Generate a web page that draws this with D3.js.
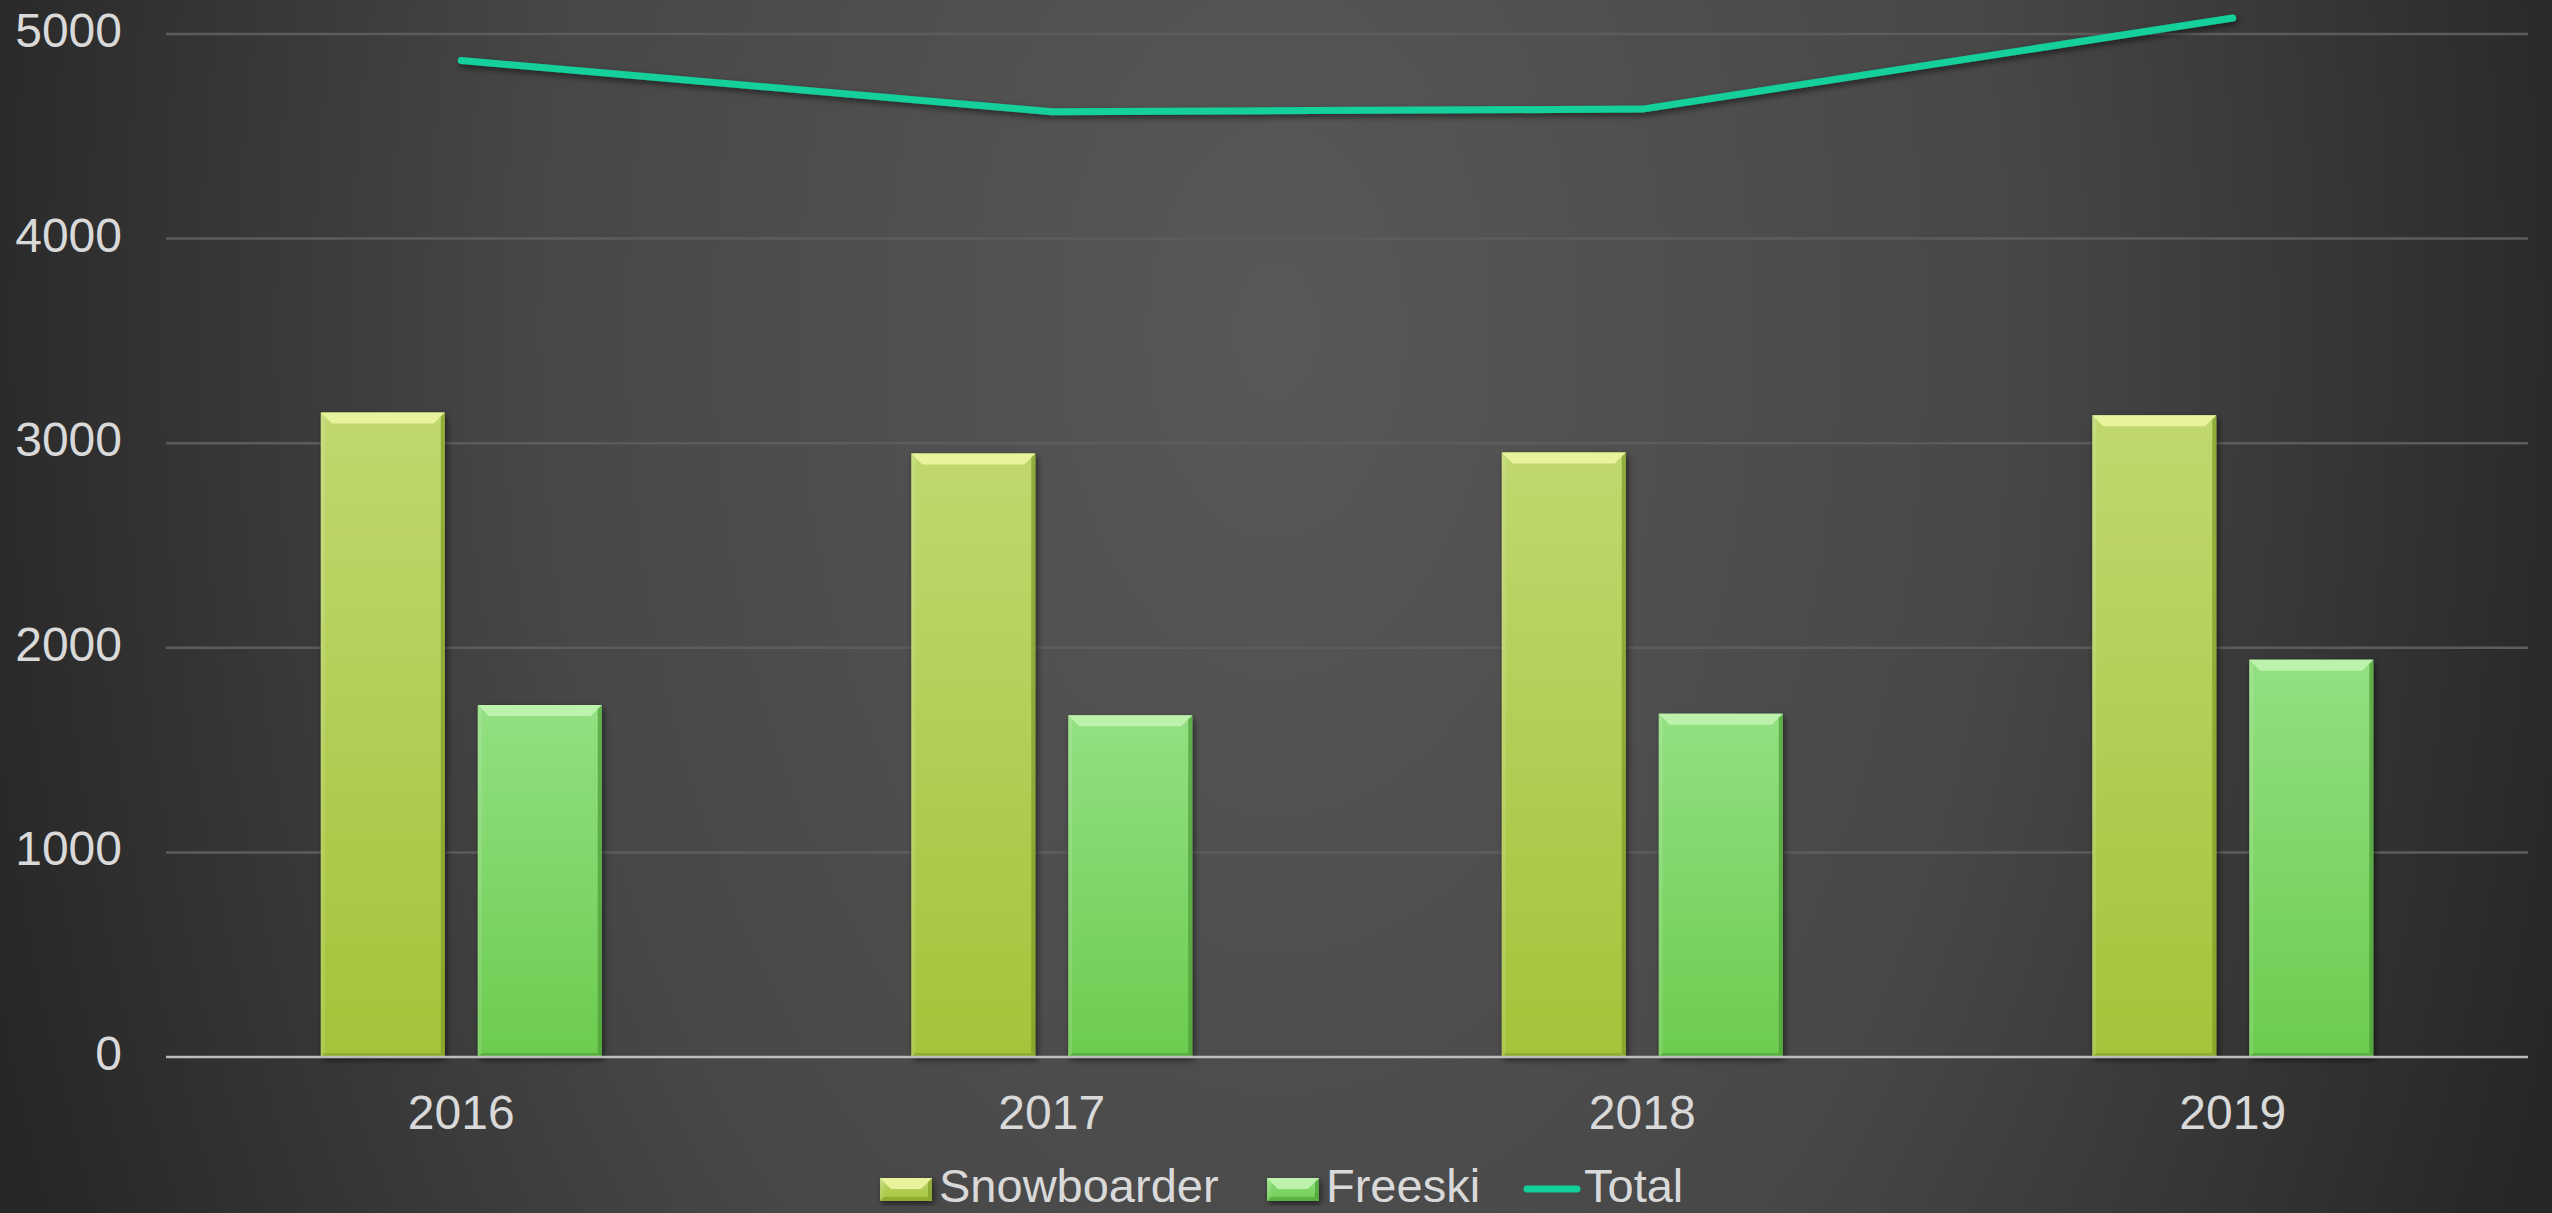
<!DOCTYPE html>
<html>
<head>
<meta charset="utf-8">
<script src="https://cdn.jsdelivr.net/npm/d3@7"></script>
<style>
  html, body { margin: 0; padding: 0; background: #333; }
  svg { display: block; }
  text { font-family: Arial, "Liberation Sans", sans-serif; fill: #d9d9d9; }
</style>
</head>
<body>
<svg id="chart"></svg>
<script>
const width = 2552;
const height = 1213;

// data
const years = ["2016", "2017", "2018", "2019"];
const series = ["Snowboarder", "Freeski"];
const snowboarder = [3150, 2950, 2955, 3136];
const freeski = [1720, 1670, 1678, 1942];
const total = [4870, 4620, 4633, 5078];
const yTicks = [0, 1000, 2000, 3000, 4000, 5000];

const rows = years.map((y, i) => ({ year: y, Snowboarder: snowboarder[i], Freeski: freeski[i], Total: total[i] }));

const colors = {
  Snowboarder: { top: "#c0d86f", bottom: "#a5c33a", bevel: "#e8f39b", edge: "#7f9a26" },
  Freeski: { top: "#93e082", bottom: "#6ccc4f", bevel: "#bdf2ad", edge: "#4c9a35" }
};
const lineColor = "#12d09c";

const svg = d3.select('#chart')
    .attr('width', width).attr('height', height);

const defs = svg.append('defs');

// wide, tall ellipse: edges dark left/right, little fall-off top/bottom
const bg = defs.append('radialGradient').attr('id', 'bg')
    .attr('gradientUnits', 'userSpaceOnUse')
    .attr('cx', 1276).attr('cy', 330).attr('r', 1340)
    .attr('gradientTransform', 'translate(1276,330) scale(1,1.6) translate(-1276,-330)');
bg.append('stop').attr('offset', '0%').attr('stop-color', '#585858');
bg.append('stop').attr('offset', '55%').attr('stop-color', '#474747');
bg.append('stop').attr('offset', '100%').attr('stop-color', '#272727');

series.forEach(s => {
  const g = defs.append('linearGradient').attr('id', 'grad-' + s)
      .attr('x1', 0).attr('y1', 0).attr('x2', 0).attr('y2', 1);
  g.append('stop').attr('offset', '0%').attr('stop-color', colors[s].top);
  g.append('stop').attr('offset', '100%').attr('stop-color', colors[s].bottom);
});

const shadow = defs.append('filter').attr('id', 'shadow')
    .attr('x', '-20%').attr('y', '-20%').attr('width', '140%').attr('height', '140%');
shadow.append('feDropShadow').attr('dx', 2).attr('dy', 3).attr('stdDeviation', 3)
    .attr('flood-color', '#000').attr('flood-opacity', 0.55);

svg.append('rect').attr('width', width).attr('height', height).attr('fill', 'url(#bg)');

const x0 = d3.scaleBand().domain(years).range([166, 2528]);
const x1 = d3.scaleBand().domain(series)
    .range([x0.bandwidth() / 2 - 140.5, x0.bandwidth() / 2 + 140.5])
    .paddingInner(0.21);
const y = d3.scaleLinear().domain([0, 5000]).range([1057, 34]);

// gridlines
svg.append('g').selectAll('line')
    .data(yTicks.filter(t => t > 0))
    .enter().append('line')
    .attr('x1', 166).attr('x2', 2528)
    .attr('y1', d => y(d)).attr('y2', d => y(d))
    .attr('stroke', '#5c5c5c').attr('stroke-width', 2.5);

// y tick labels
svg.append('g').selectAll('text')
    .data(yTicks)
    .enter().append('text')
    .attr('x', 122).attr('y', d => y(d) + 13)
    .attr('text-anchor', 'end')
    .style('font-size', '48px')
    .text(d => d);

// bars
function drawBar(g, x, yTop, w, h, s) {
  const b = Math.min(11, h / 2);
  g.append('rect').attr('x', x).attr('y', yTop).attr('width', w).attr('height', h)
      .attr('fill', 'url(#grad-' + s + ')').attr('filter', 'url(#shadow)');
  // right dark edge, bottom dark edge, left light edge
  g.append('polygon')
      .attr('points', [[x + w, yTop], [x + w, yTop + h], [x + w - 4, yTop + h - 4], [x + w - 4, yTop + 4]].join(' '))
      .attr('fill', colors[s].edge).attr('opacity', 0.7);
  g.append('polygon')
      .attr('points', [[x, yTop + h], [x + w, yTop + h], [x + w - 4, yTop + h - 4], [x + 4, yTop + h - 4]].join(' '))
      .attr('fill', colors[s].edge).attr('opacity', 0.55);
  g.append('polygon')
      .attr('points', [[x, yTop], [x + 4, yTop + 4], [x + 4, yTop + h - 4], [x, yTop + h]].join(' '))
      .attr('fill', '#ffffff').attr('opacity', 0.12);
  // top bevel
  g.append('polygon')
      .attr('points', [[x, yTop], [x + w, yTop], [x + w - b, yTop + b], [x + b, yTop + b]].join(' '))
      .attr('fill', colors[s].bevel);
}

const barGroup = svg.append('g');
rows.forEach(r => {
  series.forEach(s => {
    const bx = x0(r.year) + x1(s);
    drawBar(barGroup, bx, y(r[s]), x1.bandwidth(), y(0) - y(r[s]), s);
  });
});

// x axis line
svg.append('line')
    .attr('x1', 166).attr('x2', 2528)
    .attr('y1', y(0)).attr('y2', y(0))
    .attr('stroke', '#bdbdbd').attr('stroke-width', 2.5);

// x labels
svg.append('g').selectAll('text')
    .data(years)
    .enter().append('text')
    .attr('x', d => x0(d) + x0.bandwidth() / 2)
    .attr('y', 1129)
    .attr('text-anchor', 'middle')
    .style('font-size', '48px')
    .text(d => d);

// total line
const line = d3.line()
    .x(d => x0(d.year) + x0.bandwidth() / 2)
    .y(d => y(d.Total));
svg.append('path')
    .datum(rows)
    .attr('d', line)
    .attr('fill', 'none')
    .attr('stroke', lineColor)
    .attr('stroke-width', 7)
    .attr('stroke-linecap', 'round')
    .attr('stroke-linejoin', 'round')
    .attr('filter', 'url(#shadow)');

// legend
const legend = svg.append('g');
const legendItems = [
  { name: "Snowboarder", type: "bar", x: 880 },
  { name: "Freeski", type: "bar", x: 1267 },
  { name: "Total", type: "line", x: 1524 }
];
legendItems.forEach(it => {
  if (it.type === 'bar') {
    drawBar(legend, it.x, 1178, 52, 23, it.name);
    legend.append('text').attr('x', it.x + 59).attr('y', 1202)
        .style('font-size', '47px').text(it.name);
  } else {
    legend.append('line')
        .attr('x1', it.x + 3).attr('x2', it.x + 53)
        .attr('y1', 1189).attr('y2', 1189)
        .attr('stroke', lineColor).attr('stroke-width', 7)
        .attr('stroke-linecap', 'round');
    legend.append('text').attr('x', it.x + 60).attr('y', 1202)
        .style('font-size', '47px').text(it.name);
  }
});
</script>
</body>
</html>
